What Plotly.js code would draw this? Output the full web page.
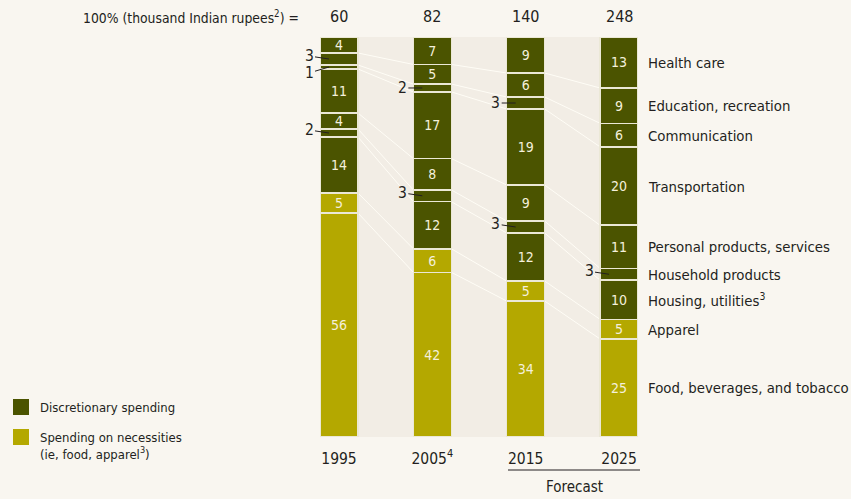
<!DOCTYPE html>
<html>
<head>
<meta charset="utf-8">
<script src="https://cdn.plot.ly/plotly-3.0.1.min.js"></script>
<style>
  html, body { margin: 0; padding: 0; background: #f9f6f0; }
  #chart { width: 851px; height: 499px; }
</style>
</head>
<body>
<div id="chart"></div>
<script>
// ---- Data ----
const years = [0, 1, 2, 3];
const tickLabels = ['1995', '2005<sup>4</sup>', '2015', '2025'];
const totals = ['60', '82', '140', '248'];
const categories = ['Food, beverages, and tobacco', 'Apparel', 'Housing, utilities<sup>3</sup>',
  'Household products', 'Personal products, services', 'Transportation',
  'Communication', 'Education, recreation', 'Health care'];
const food = [56, 42, 34, 25];
const apparel = [5, 6, 5, 5];
const housing = [14, 12, 12, 10];
const household = [2, 3, 3, 3];
const personal = [4, 8, 9, 11];
const transport = [11, 17, 19, 20];
const communication = [1, 2, 3, 6];
const education = [3, 5, 6, 9];
const health = [4, 7, 9, 13];
const isNecessity = [true, true, false, false, false, false, false, false, false];

// ---- Style ----
const DARK = '#4b5400';
const YELLOW = '#b4a800';
const BAND = '#f2ede5';
const PAPER = '#f9f6f0';
const TXT = '#231f20';
const FONT = '"DejaVu Sans Condensed", "Liberation Sans Narrow", sans-serif';
const W = 0.407;

const series = [food, apparel, housing, household, personal, transport, communication, education, health];
const sums = years.map((_, i) => series.reduce((s, a) => s + a[i], 0));
const tops = [];
const centers = [];
series.forEach((arr, k) => {
  tops.push(years.map((_, i) => {
    let c = 0; for (let j = 0; j <= k; j++) c += series[j][i];
    return c / sums[i] * 100;
  }));
  centers.push(years.map((_, i) => tops[k][i] - arr[i] / sums[i] * 50));
});

const traces = series.map((arr, k) => ({
  type: 'bar',
  x: years,
  y: arr,
  width: W,
  name: categories[k],
  marker: { color: isNecessity[k] ? YELLOW : DARK, line: { color: '#ebe8d6', width: 1.5 } },
  text: arr.map(v => v > 3 ? String(v) : null),
  textposition: 'inside',
  insidetextanchor: 'middle',
  textangle: 0,
  textfont: { color: '#f4f0dc', size: 14, family: FONT },
  hoverinfo: 'skip',
  showlegend: false
}));

const shapes = [];
for (let k = 0; k < series.length - 1; k++) {
  for (let i = 0; i < years.length - 1; i++) {
    shapes.push({
      type: 'line', xref: 'x', yref: 'y', layer: 'below',
      x0: years[i] + W / 2, y0: tops[k][i], x1: years[i + 1] - W / 2, y1: tops[k][i + 1],
      line: { color: '#fffdf6', width: 1 }
    });
  }
}
const px = v => (v - 320) / 318;
const py = v => (437 - v) / 400;
shapes.push({ type: 'rect', xref: 'paper', yref: 'paper', x0: px(13), x1: px(29), y0: py(399), y1: py(415), fillcolor: DARK, line: { width: 0 } });
shapes.push({ type: 'rect', xref: 'paper', yref: 'paper', x0: px(13), x1: px(29), y0: py(429), y1: py(445), fillcolor: YELLOW, line: { width: 0 } });
shapes.push({ type: 'line', xref: 'paper', yref: 'paper', x0: px(508), x1: px(640), y0: py(470), y1: py(470), line: { color: TXT, width: 1 } });

const annotations = [];
years.forEach((x, i) => annotations.push({
  x: x, xref: 'x', y: py(17), yref: 'paper', text: totals[i], showarrow: false,
  font: { size: 16, color: TXT, family: FONT }, xanchor: 'center', yanchor: 'middle'
}));
annotations.push({
  x: px(301), xref: 'paper', y: py(17), yref: 'paper', text: '100% (thousand Indian rupees<sup>2</sup>) =',
  showarrow: false, xanchor: 'right', yanchor: 'middle', font: { size: 13.8, color: TXT, family: FONT }
});
categories.forEach((c, k) => annotations.push({
  x: years[3] + W / 2, xref: 'x', xshift: 8, y: centers[k][3], yref: 'y', text: c,
  showarrow: false, xanchor: 'left', yanchor: 'middle', font: { size: 14.8, color: TXT, family: FONT }
}));
series.forEach((arr, k) => arr.forEach((v, i) => {
  if (v <= 3) {
    let ay = 0;
    if (k === 7 && i === 0) ay = -3;
    if (k === 6 && i === 0) ay = 6;
    if (k === 3) ay = -3;
    annotations.push({
      x: years[i] - W / 2 + 9 / 93.3, xref: 'x', y: centers[k][i], yref: 'y', text: String(v),
      showarrow: true, arrowhead: 0, arrowwidth: 1, arrowcolor: TXT, ax: -20, ay: ay, standoff: 0,
      font: { size: 15.5, color: TXT, family: FONT }
    });
  }
}));
annotations.push({ x: px(38), xref: 'paper', y: py(407), yref: 'paper', text: 'Discretionary spending', showarrow: false, xanchor: 'left', yanchor: 'middle', font: { size: 13, color: TXT, family: FONT } });
annotations.push({ x: px(38), xref: 'paper', y: py(446), yref: 'paper', text: 'Spending on necessities<br>(ie, food, apparel<sup>3</sup>)', showarrow: false, xanchor: 'left', yanchor: 'middle', align: 'left', font: { size: 13, color: TXT, family: FONT } });
annotations.push({ x: px(574), xref: 'paper', y: py(487), yref: 'paper', text: 'Forecast', showarrow: false, xanchor: 'center', yanchor: 'middle', font: { size: 15, color: TXT, family: FONT } });

const layout = {
  width: 851, height: 499,
  margin: { l: 320, r: 213, t: 37, b: 62, pad: 0 },
  paper_bgcolor: PAPER,
  plot_bgcolor: BAND,
  barmode: 'stack',
  barnorm: 'percent',
  uniformtext: { mode: 'show', minsize: 14 },
  showlegend: false,
  font: { family: FONT, color: TXT },
  xaxis: {
    range: [-W / 2, 3 + W / 2], tickvals: years, ticktext: tickLabels,
    showgrid: false, zeroline: false, showline: false, ticks: 'outside', ticklen: 7, tickcolor: PAPER,
    tickfont: { size: 15.5, color: TXT, family: FONT }, fixedrange: true
  },
  yaxis: { range: [0, 100], visible: false, fixedrange: true },
  shapes: shapes,
  annotations: annotations
};

Plotly.newPlot('chart', traces, layout, { staticPlot: true });
</script>
</body>
</html>
